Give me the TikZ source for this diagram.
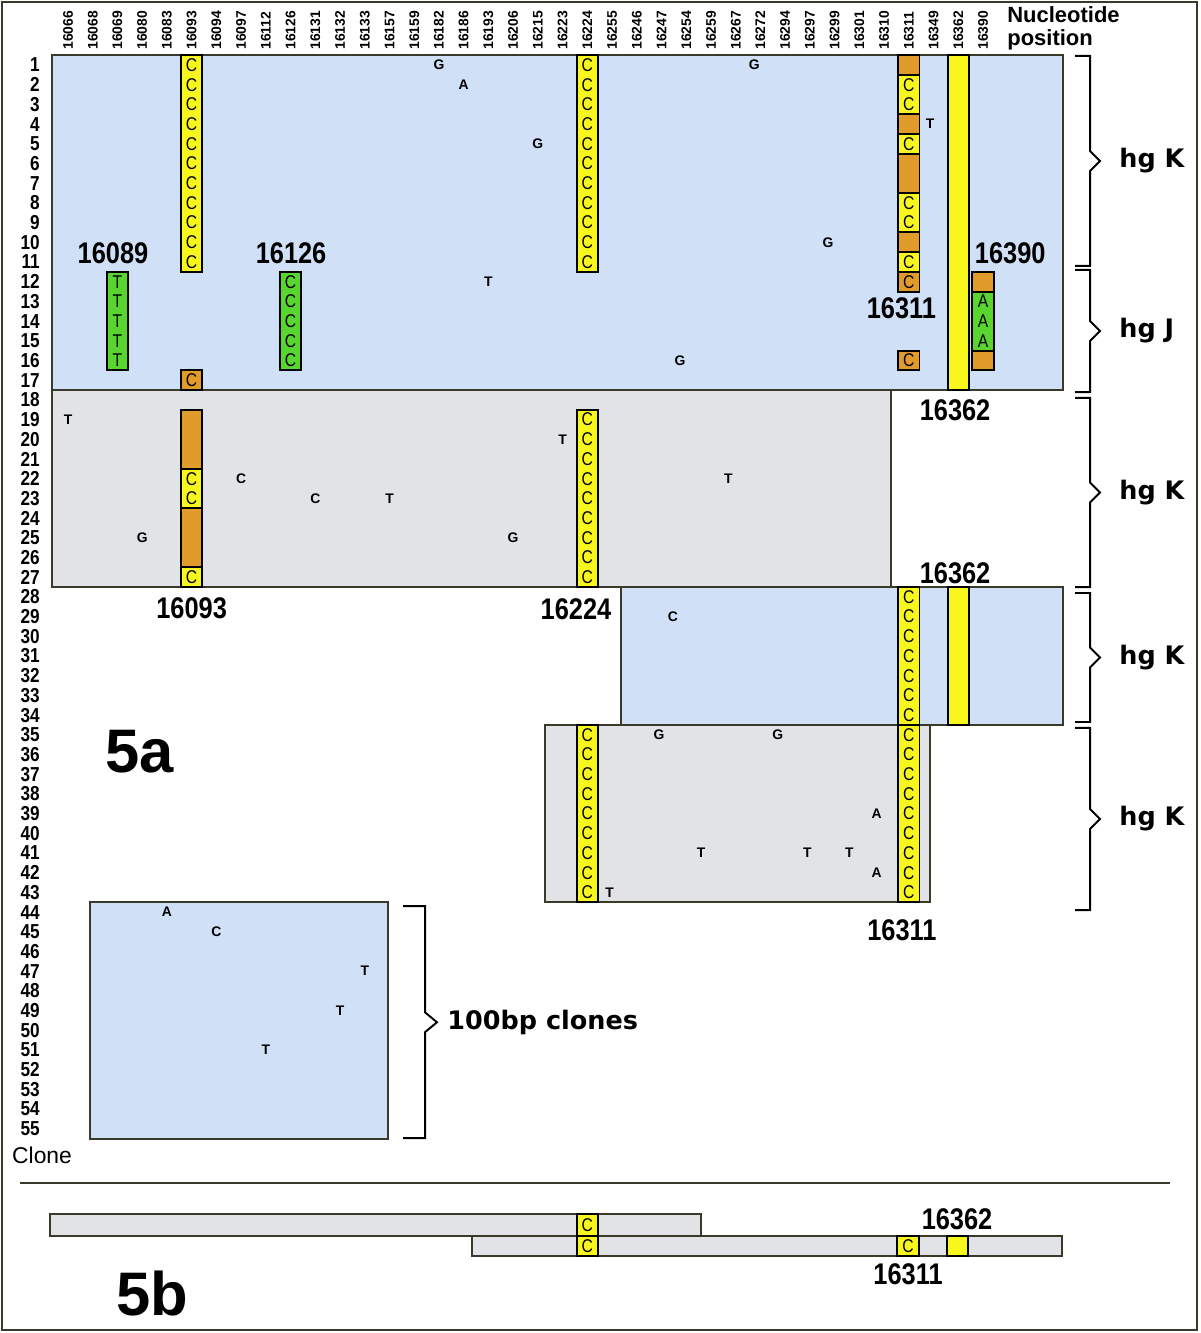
\documentclass[tikz,border=0pt]{standalone}
\usepackage{fontspec}
\setmainfont{Liberation Sans}
\newfontfamily\narrowfont[FakeStretch=0.85]{Liberation Sans}
\newfontfamily\widefont{DejaVu Sans}
\usetikzlibrary{positioning}
\definecolor{cloneblue}{RGB}{207,224,247}
\definecolor{clonegrey}{RGB}{226,227,231}
\definecolor{edgeolive}{RGB}{58,58,42}
\definecolor{siteyellow}{RGB}{247,247,30}
\definecolor{siteorange}{RGB}{224,155,43}
\definecolor{sitegreen}{RGB}{88,214,47}
\tikzset{
     block/.style={draw=edgeolive,line width=1.1pt},
     blueblock/.style={block,fill=cloneblue},
     greyblock/.style={block,fill=clonegrey},
     cell/.style={draw=black,line width=1.1pt},
     ycell/.style={cell,fill=siteyellow},
     ocell/.style={cell,fill=siteorange},
     gcell/.style={cell,fill=sitegreen},
     base/.style={inner sep=0pt,font=\narrowfont\fontsize{10.5}{10.5}\selectfont},
     snp/.style={inner sep=0pt,font=\bfseries\fontsize{7.9}{8}\selectfont},
     rowlab/.style={anchor=east,inner sep=0pt,font=\narrowfont\bfseries\fontsize{11.5}{11.5}\selectfont},
     poslab/.style={anchor=west,rotate=90,inner sep=0pt,font=\bfseries\fontsize{7.9}{8}\selectfont},
     sitelab/.style={inner sep=0pt,font=\narrowfont\bfseries\fontsize{17}{17}\selectfont},
     bigfig/.style={inner sep=0pt,font=\bfseries\fontsize{35}{35}\selectfont},
     grouplab/.style={anchor=west,inner sep=0pt,font=\widefont\bfseries\fontsize{14.5}{15}\selectfont},
     bracket/.style={draw=black,line width=1.1pt}
     }

\begin{document}
\begin{tikzpicture}[x=0.4946cm,y=-0.394cm]
            \useasboundingbox[fill=white] (-2.7497,-2.2995) rectangle (45.774,65.365);
            \draw[line width=1.4pt,edgeolive] (-2.669,-2.198) rectangle (45.65,65.21);
            % Place headers
            \foreach \p [count=\i from 0] in {16066,16068,16069,16080,16083,16093,16094,16097,16112,16126,16131,16132,16133,16157,16159,16182,16186,16193,16206,16215,16223,16224,16255,16246,16247,16254,16259,16267,16272,16294,16297,16299,16301,16310,16311,16349,16362,16390}
                \node[poslab] (pos\i) at (\i,0.24) {\p};
            \node[anchor=west,align=left,inner sep=0pt,font=\bfseries\fontsize{12.5}{13}\selectfont] (nucpos) at (37.97,-0.88) {Nucleotide\\position};
            \foreach \r in {1,...,55}
                \node[rowlab] (row\r) at (-1.13,\r) {\r};
            \node[inner sep=0pt,font=\fontsize{13}{13}\selectfont] (clone) at (-1.05,56.33) {Clone};
            % Place clone blocks
            \draw[blueblock] (-0.65,0.5) rectangle (40.23,17.5);
            \draw[greyblock] (-0.65,17.5) rectangle (33.28,27.5);
            \draw[blueblock] (22.36,27.5) rectangle (40.23,34.5);
            \draw[greyblock] (19.29,34.5) rectangle (34.86,43.5);
            \draw[blueblock] (0.89,43.5) rectangle (12.94,55.5);
            % Place site columns
            \foreach \c/\a/\b/\s/\l in {5/1/11/ycell/C,5/17/17/ocell/C,5/19/21/ocell/{},5/22/23/ycell/C,5/24/26/ocell/{},5/27/27/ycell/C,
                21/1/11/ycell/C,21/19/27/ycell/C,21/35/43/ycell/C,2/12/16/gcell/T,9/12/16/gcell/C,
                34/1/1/ocell/{},34/2/3/ycell/C,34/4/4/ocell/{},34/5/5/ycell/C,34/6/7/ocell/{},34/8/9/ycell/C,34/10/10/ocell/{},
                34/11/11/ycell/C,34/12/12/ocell/C,34/16/16/ocell/C,34/28/34/ycell/C,34/35/43/ycell/C,
                36/1/17/ycell/{},36/28/34/ycell/{},37/12/12/ocell/{},37/13/15/gcell/A,37/16/16/ocell/{}}
            {
                \draw[\s] (\c-0.43,\a-0.5) rectangle (\c+0.43,\b+0.5);
                \foreach \r in {\a,...,\b}
                    \node[base] (s\c-\r) at (\c,\r) {\l};
            }
            % Place single changes
            \foreach \x/\y/\l [count=\k] in {15/1/G,16/2/A,19/5/G,27.75/1/G,34.86/4/T,30.73/10/G,17/12/T,24.75/16/G,
                0/19/T,20/20/T,7/22/C,10/23/C,13/23/T,3/25/G,18/25/G,26.7/22/T,24.46/29/C,
                23.9/35/G,28.7/35/G,32.7/39/A,25.6/41/T,29.9/41/T,31.6/41/T,32.7/42/A,21.9/43/T,
                4/44/A,6/45/C,12/47/T,11/49/T,8/51/T}
                \node[snp] (snp\k) at (\x,\y) {\l};
            % Place site labels
            \node[sitelab] (l16089) at (1.82,10.54) {16089};
            \node[sitelab] (l16126) at (9.02,10.54) {16126};
            \node[sitelab] (l16390) at (38.1,10.54) {16390};
            \node[sitelab] (l16311a) at (33.7,13.33) {16311};
            \node[sitelab] (l16362a) at (35.87,18.5) {16362};
            \node[sitelab] (l16362b) at (35.87,26.8) {16362};
            \node[sitelab] (l16093) at (5.0,28.6) {16093};
            \node[sitelab] (l16224) at (20.54,28.6) {16224};
            \node[sitelab] (l16311b) at (33.72,44.9) {16311};
            \node[bigfig] (fig5a) at (2.91,35.87) {5a};
            % Draw brackets
            \foreach \t/\b/\l [count=\k] in {0.54/11.2/hg K,11.4/17.6/hg J,17.9/27.5/hg K,27.8/34.35/hg K,34.65/43.9/hg K}
            {
                \pgfmathsetmacro\m{(\t+\b)/2}
                \draw[bracket] (40.72,\t) -- (41.33,\t) -- (41.33,\m-0.5) -- (41.73,\m) -- (41.33,\m+0.5) -- (41.33,\b) -- (40.72,\b);
                \node[grouplab] (hg\k) at (42.5,\m) {\l};
            }
            \draw[bracket] (13.55,43.7) -- (14.44,43.7) -- (14.44,49.09) -- (14.92,49.59) -- (14.44,50.09) -- (14.44,55.47) -- (13.55,55.47);
            \node[grouplab] (short) at (15.33,49.59) {100bp clones};
            % Part b
            \draw[line width=1.1pt,edgeolive] (-1.94,57.75) -- (44.56,57.75);
            \draw[greyblock,line width=0.9pt] (-0.73,59.32) rectangle (25.6,60.44);
            \draw[greyblock,line width=0.9pt] (16.34,60.44) rectangle (40.19,61.46);
            \foreach \c/\a/\b/\l [count=\k] in {21/59.32/60.44/C,21/60.44/61.46/C,33.97/60.44/61.46/C,35.97/60.44/61.46/{}}
            {
                \draw[ycell] (\c-0.43,\a) rectangle (\c+0.43,\b);
                \node[base] (b\k) at (\c,{(\a+\b)/2}) {\l};
            }
            \node[sitelab] (l16362c) at (35.95,59.58) {16362};
            \node[sitelab] (l16311c) at (33.97,62.37) {16311};
            \node[bigfig] (fig5b) at (3.4,63.34) {5b};
        \end{tikzpicture}
\end{document}
